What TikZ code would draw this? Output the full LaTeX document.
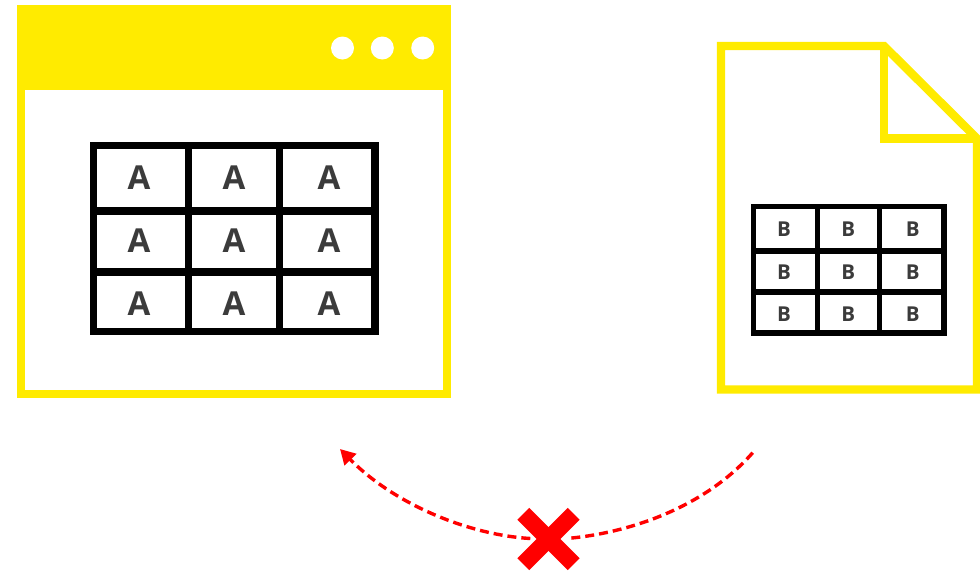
\documentclass[tikz,border=0pt]{standalone}
\usepackage{fontspec}
\setmainfont{Open Sans}
\usetikzlibrary{arrows.meta}
\definecolor{signyellow}{HTML}{FFEB00}
\definecolor{lettergrey}{HTML}{3B3B3B}
\definecolor{signred}{HTML}{FF0000}
\tikzset{
  framebox/.style={rectangle, draw=signyellow, line width=8.4pt, fill=white, inner sep=0pt, outer sep=0pt},
  cellbox/.style={rectangle, draw=black, inner sep=0pt, outer sep=0pt},
  letterA/.style={font=\fontsize{33}{33}\selectfont\bfseries, text=lettergrey, inner sep=0pt},
  letterB/.style={font=\fontsize{20.5}{20.5}\selectfont\bfseries, text=lettergrey, inner sep=0pt},
  windot/.style={circle, fill=white, minimum size=23pt, inner sep=0pt},
  blockedlink/.style={signred, line width=3.4pt, dash pattern=on 9pt off 5pt}
}
\begin{document}
\begin{tikzpicture}[x=1pt, y=-1pt]
\useasboundingbox (0,0) rectangle (980,571);

% Window with header bar
\node[framebox, minimum width=426pt, minimum height=384pt] (window) at (234,202) {};
\node[rectangle, fill=signyellow, minimum width=434pt, minimum height=85pt, inner sep=0pt] (header) at (234,47.5) {};
\node[windot] (dot1) at (342.5,48) {};
\node[windot] (dot2) at (382.3,48) {};
\node[windot] (dot3) at (422.7,48) {};

% Table A
\foreach \colx/\colw/\textx/\c in {141/95/139/1,234/91/234/2,327.25/95.5/329/3}
  \foreach \rowy/\rowh/\texty/\r in {178.25/65.5/177.5/1,241.5/61/240.5/2,301.75/59.5/304/3} {
    \node[cellbox, line width=7.4pt, minimum width=\colw pt, minimum height=\rowh pt] (cellA\r\c) at (\colx,\rowy) {};
    \node[letterA] (textA\r\c) at (\textx,\texty) {A};
  }

% File with folded corner
\draw[signyellow, line width=8.4pt, fill=white, miter limit=10] (721,46) -- (884,46) -- (977,138.5) -- (977,389.5) -- (721,389.5) -- cycle;
\draw[signyellow, line width=8.4pt] (884,46) -- (884,138.5) -- (977,138.5);

% Table B
\foreach \colx/\colw/\textx/\c in {785.5/64/784/1,848.5/62/848.3/2,911.75/64.5/912.7/3}
  \foreach \rowy/\rowh/\texty/\r in {228.75/44.5/229/1,271.5/41/271.7/2,312.5/41/314.3/3} {
    \node[cellbox, line width=5.2pt, minimum width=\colw pt, minimum height=\rowh pt] (cellB\r\c) at (\colx,\rowy) {};
    \node[letterB] (textB\r\c) at (\textx,\texty) {B};
  }

% Blocked transfer
\coordinate (linkstart) at (752.7,452.7);
\coordinate (linkend) at (340,449);
\node[circle, minimum size=36pt, inner sep=0pt] (crossmark) at (548.5,538.5) {};
\draw[blockedlink] (linkstart) .. controls (705,507) and (630,533) .. (crossmark.east);
\draw[blockedlink, -{Triangle[length=15pt, width=16pt]}] (crossmark.west) .. controls (470,535) and (395,505) .. (linkend);
\draw[signred, line width=16.8pt] (523.3,513.8) -- (573.7,564.2);
\draw[signred, line width=16.8pt] (523.3,564.2) -- (573.7,513.8);

\end{tikzpicture}
\end{document}
